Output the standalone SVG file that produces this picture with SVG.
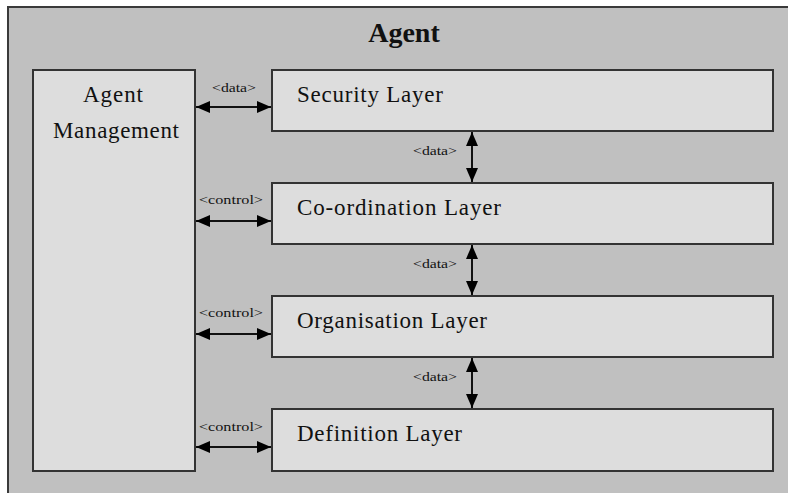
<svg xmlns="http://www.w3.org/2000/svg" width="788" height="493" viewBox="0 0 788 493">
  <style>
    .frame { fill: #c0c0c0; stroke: #3a3a3a; stroke-width: 2; }
    .box { fill: #dddddd; stroke: #333333; stroke-width: 2; }
    .title { font-family: "Liberation Serif", "Times New Roman", serif; font-size: 28px; font-weight: bold; fill: #111; }
    .name { font-family: "Liberation Serif", "Times New Roman", serif; font-size: 23px; fill: #111; }
    .tag { font-family: "Liberation Serif", "Times New Roman", serif; font-size: 13px; fill: #111; }
    .link { stroke: #111; stroke-width: 2; fill: none; marker-start: url(#head); marker-end: url(#head); }
  </style>
  <defs>
    <marker id="head" viewBox="0 0 14 12" refX="14" refY="6" markerWidth="14" markerHeight="12" markerUnits="userSpaceOnUse" orient="auto-start-reverse">
      <path d="M0,0 L14,6 L0,12 Z" fill="#000"/>
    </marker>
  </defs>

  <rect class="frame" x="8" y="7" width="800" height="500"/>
  <text class="title" x="404" y="42" text-anchor="middle">Agent</text>

  <g id="agent-management">
    <rect class="box" x="33" y="70" width="162" height="401"/>
    <text class="name" x="113" y="102" text-anchor="middle" textLength="60" lengthAdjust="spacing">Agent</text>
    <text class="name" x="116" y="138" text-anchor="middle" textLength="126" lengthAdjust="spacing">Management</text>
  </g>

  <g id="security-layer">
    <rect class="box" x="272" y="70" width="501" height="61"/>
    <text class="name" x="297" y="102" textLength="146" lengthAdjust="spacing">Security Layer</text>
  </g>

  <g id="coordination-layer">
    <rect class="box" x="272" y="183" width="501" height="61"/>
    <text class="name" x="297" y="215" textLength="204" lengthAdjust="spacing">Co-ordination Layer</text>
  </g>

  <g id="organisation-layer">
    <rect class="box" x="272" y="296" width="501" height="61"/>
    <text class="name" x="297" y="328" textLength="190" lengthAdjust="spacing">Organisation Layer</text>
  </g>

  <g id="definition-layer">
    <rect class="box" x="272" y="409" width="501" height="62"/>
    <text class="name" x="297" y="441" textLength="165" lengthAdjust="spacing">Definition Layer</text>
  </g>

  <g id="connectors">
    <!-- management to layers -->
    <line class="link" x1="196" y1="107" x2="271" y2="107"/>
    <line class="link" x1="196" y1="221" x2="271" y2="221"/>
    <line class="link" x1="196" y1="334" x2="271" y2="334"/>
    <line class="link" x1="196" y1="447" x2="271" y2="447"/>
    <!-- between stacked layers -->
    <line class="link" x1="472" y1="132" x2="472" y2="182"/>
    <line class="link" x1="472" y1="245" x2="472" y2="295"/>
    <line class="link" x1="472" y1="358" x2="472" y2="408"/>

    <text class="tag" x="234" y="92" text-anchor="middle" textLength="44" lengthAdjust="spacingAndGlyphs">&lt;data&gt;</text>
    <text class="tag" x="231" y="204" text-anchor="middle" textLength="64" lengthAdjust="spacingAndGlyphs">&lt;control&gt;</text>
    <text class="tag" x="231" y="317" text-anchor="middle" textLength="64" lengthAdjust="spacingAndGlyphs">&lt;control&gt;</text>
    <text class="tag" x="231" y="431" text-anchor="middle" textLength="64" lengthAdjust="spacingAndGlyphs">&lt;control&gt;</text>
    <text class="tag" x="435" y="155" text-anchor="middle" textLength="44" lengthAdjust="spacingAndGlyphs">&lt;data&gt;</text>
    <text class="tag" x="435" y="268" text-anchor="middle" textLength="44" lengthAdjust="spacingAndGlyphs">&lt;data&gt;</text>
    <text class="tag" x="435" y="381" text-anchor="middle" textLength="44" lengthAdjust="spacingAndGlyphs">&lt;data&gt;</text>
  </g>
</svg>
